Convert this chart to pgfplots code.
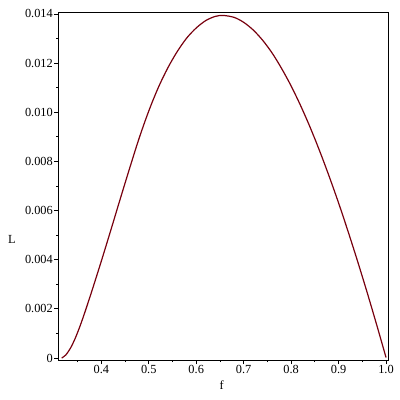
\documentclass[border=0pt]{standalone}
\usepackage{fontspec}
\setmainfont{Liberation Serif}
\usepackage{pgfplots}
\pgfplotsset{compat=1.18}
\definecolor{mapleline}{RGB}{120,0,14}

\begin{document}
\begin{tikzpicture}
\useasboundingbox (-58.5bp,-40bp) rectangle (341.5bp,360bp);
\begin{axis}[
    at={(0,0)}, anchor=south west,
    scale only axis,
    width=329.8bp, height=348bp,
    xmin=0.3098, xmax=1.0048,
    ymin=-0.0000814, ymax=0.01408,
    axis line style={line width=0.8bp},
    xtick={0.4,0.5,...,1.0},
    minor xtick={0.35,0.45,...,0.96},
    ytick={0,0.002,0.004,0.006,0.008,0.010,0.012,0.014},
    yticklabels={0,0.002,0.004,0.006,0.008,0.010,0.012,0.014},
    minor ytick={0.001,0.003,0.005,0.007,0.009,0.011,0.013},
    scaled y ticks=false,
    xticklabel style={/pgf/number format/.cd,fixed,fixed zerofill,precision=1},
    /pgf/number format/assume math mode=true,
    tick align=outside,
    xtick pos=left, ytick pos=left,
    major tick length=4bp, minor tick length=2bp,
    tick style={line width=0.8bp, black},
    tick label style={font=\fontsize{12.4}{14}\selectfont, inner sep=1.5bp},
    label style={font=\fontsize{12.4}{14}\selectfont},
    xlabel={f},
    xlabel style={at={(axis description cs:0.495,-0.072)}, anchor=center},
    ylabel={L},
    ylabel style={rotate=-90, at={(axis description cs:-0.141,0.345)}, anchor=center},
]
\addplot[mapleline, line width=1.2bp, smooth] coordinates {
    (0.3165, 0.00000)
    (0.325, 0.00012)
    (0.335, 0.00040)
    (0.345, 0.00080)
    (0.355, 0.00129)
    (0.365, 0.00184)
    (0.38, 0.00272)
    (0.40, 0.00394)
    (0.42, 0.00520)
    (0.44, 0.00648)
    (0.46, 0.00774)
    (0.48, 0.00896)
    (0.50, 0.01005)
    (0.52, 0.01100)
    (0.54, 0.01180)
    (0.56, 0.01247)
    (0.58, 0.01302)
    (0.60, 0.01343)
    (0.62, 0.01373)
    (0.64, 0.01390)
    (0.657, 0.01394)
    (0.68, 0.01386)
    (0.70, 0.01366)
    (0.72, 0.01335)
    (0.74, 0.01293)
    (0.76, 0.01241)
    (0.78, 0.01178)
    (0.80, 0.01107)
    (0.82, 0.01027)
    (0.84, 0.00939)
    (0.86, 0.00843)
    (0.88, 0.00740)
    (0.90, 0.00631)
    (0.92, 0.00515)
    (0.94, 0.00394)
    (0.96, 0.00268)
    (0.98, 0.00137)
    (1.00, 0.00002)
};
\end{axis}
\end{tikzpicture}
\end{document}
